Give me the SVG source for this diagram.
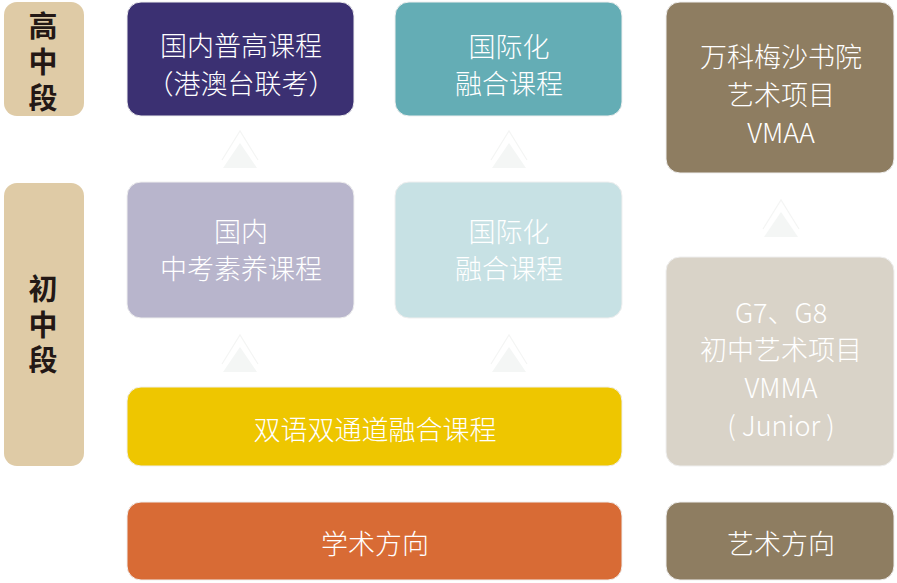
<svg xmlns="http://www.w3.org/2000/svg" width="897" height="583" viewBox="0 0 897 583">
<style>
.box{stroke:#efefef;stroke-width:1}
.t{font-family:"Noto Sans CJK SC","Noto Sans",sans-serif;font-size:27px;font-weight:300;fill:#ffffff;text-anchor:middle;dominant-baseline:central}
.lab{font-family:"Noto Sans CJK SC","Noto Sans",sans-serif;font-size:29px;font-weight:700;fill:#231815;writing-mode:vertical-rl;text-anchor:start}
.chev{fill:none;stroke:#f4f5f4;stroke-width:1.2}
.tri{fill:#f4f6f5}
</style>
<rect width="897" height="583" fill="#ffffff"/>
<g id="label-senior">
<rect x="4" y="2" width="80" height="114" rx="13" fill="#dfcba6"/>
<text class="lab" x="43" y="11.5" letter-spacing="7">高中段</text>
</g>
<g id="label-junior">
<rect x="4" y="183" width="80" height="283" rx="13" fill="#dfcba6"/>
<text class="lab" x="43" y="274.5" letter-spacing="6.5">初中段</text>
</g>
<g id="node-gaokao">
<rect class="box" x="127" y="2" width="227" height="114" rx="14" fill="#3b3072"/>
<text class="t" x="241" y="44">国内普高课程</text>
<text class="t" x="241" y="82">（港澳台联考）</text>
</g>
<g id="node-intl-senior">
<rect class="box" x="395" y="2" width="227" height="114" rx="14" fill="#64adb5"/>
<text class="t" x="509" y="45">国际化</text>
<text class="t" x="509" y="82">融合课程</text>
</g>
<g id="node-vmaa">
<rect class="box" x="666" y="2" width="228" height="171" rx="14" fill="#8e7d61"/>
<text class="t" x="781" y="55">万科梅沙书院</text>
<text class="t" x="781" y="93">艺术项目</text>
<text class="t" x="781" y="131">VMAA</text>
</g>
<g id="node-zhongkao">
<rect class="box" x="127" y="182" width="227" height="136" rx="14" fill="#b8b5cc"/>
<text class="t" x="241" y="230">国内</text>
<text class="t" x="241" y="267">中考素养课程</text>
</g>
<g id="node-intl-junior">
<rect class="box" x="395" y="182" width="227" height="136" rx="14" fill="#c7e1e4"/>
<text class="t" x="509" y="230">国际化</text>
<text class="t" x="509" y="267">融合课程</text>
</g>
<g id="node-vmma">
<rect class="box" x="666" y="257" width="228" height="209" rx="14" fill="#d9d3c8"/>
<text class="t" x="781" y="311">G7、G8</text>
<text class="t" x="781" y="348">初中艺术项目</text>
<text class="t" x="781" y="386">VMMA</text>
<text class="t" x="781" y="424">( Junior )</text>
</g>
<g id="node-bilingual">
<rect class="box" x="127" y="387" width="495" height="79" rx="14" fill="#eec600"/>
<text class="t" x="375" y="428">双语双通道融合课程</text>
</g>
<g id="node-academic">
<rect class="box" x="127" y="502" width="495" height="78" rx="14" fill="#d86b35"/>
<text class="t" x="375" y="542">学术方向</text>
</g>
<g id="node-art">
<rect class="box" x="666" y="502" width="228" height="78" rx="14" fill="#8e7d61"/>
<text class="t" x="781" y="542">艺术方向</text>
</g>
<g id="connectors">
<g transform="translate(240,0)">
<polyline class="chev" points="-18,160 0,131 18,160"/>
<polygon class="tri" points="0,143 17,168 -17,168"/>
</g>
<g transform="translate(509,0)">
<polyline class="chev" points="-18,160 0,131 18,160"/>
<polygon class="tri" points="0,143 17,168 -17,168"/>
</g>
<g transform="translate(781,69)">
<polyline class="chev" points="-18,160 0,131 18,160"/>
<polygon class="tri" points="0,143 17,168 -17,168"/>
</g>
<g transform="translate(240,204)">
<polyline class="chev" points="-18,160 0,131 18,160"/>
<polygon class="tri" points="0,143 17,168 -17,168"/>
</g>
<g transform="translate(509,204)">
<polyline class="chev" points="-18,160 0,131 18,160"/>
<polygon class="tri" points="0,143 17,168 -17,168"/>
</g>
</g>
</svg>
